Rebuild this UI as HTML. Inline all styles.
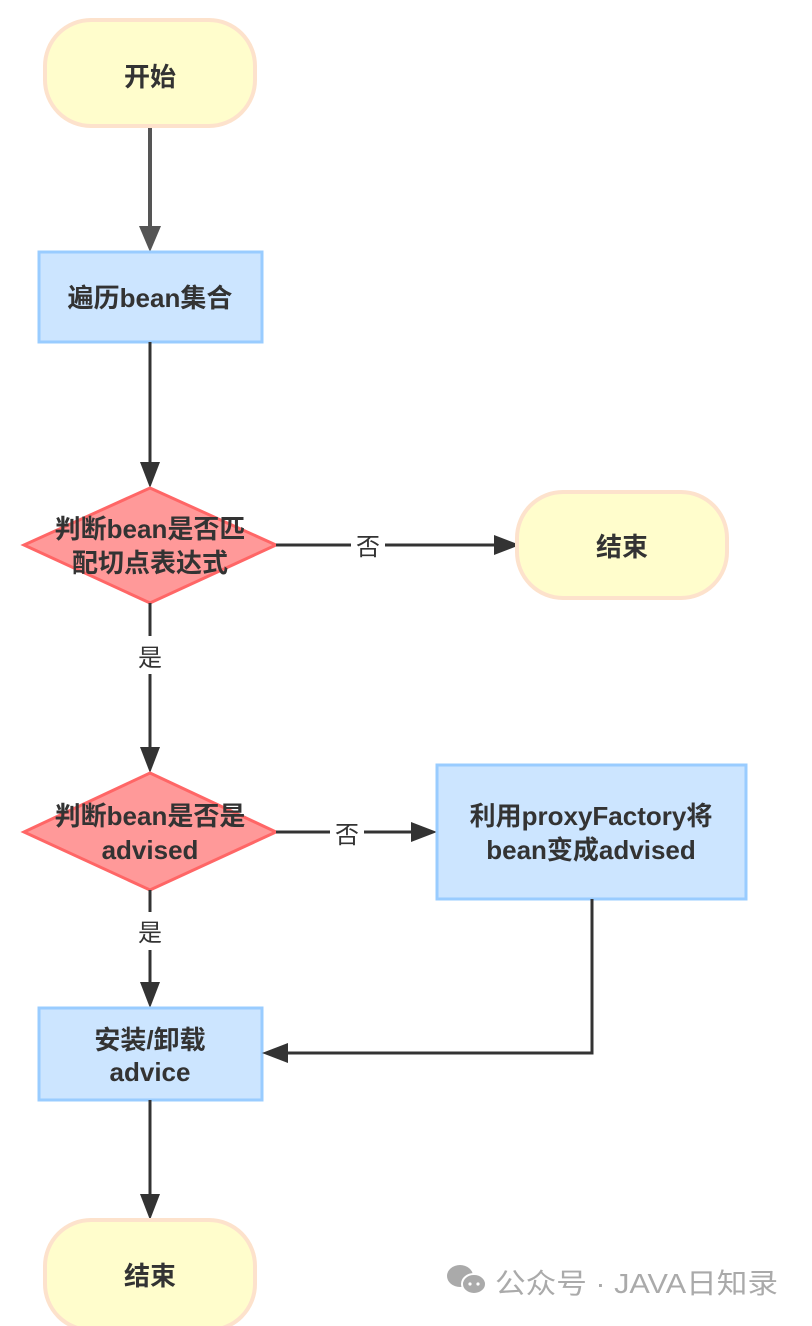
<!DOCTYPE html>
<html><head><meta charset="utf-8"><style>
html,body{margin:0;padding:0;background:#fff;width:812px;height:1326px;overflow:hidden}
svg text{font-family:"Liberation Sans","Noto Sans CJK SC",sans-serif}
.b{font-weight:bold;fill:#333;font-size:26px}
.l{fill:#333;font-size:24px}
</style></head><body>
<svg width="812" height="1326" viewBox="0 0 812 1326" xmlns="http://www.w3.org/2000/svg">
<rect x="45" y="20" width="210" height="106" rx="46" fill="#fffdcc" stroke="#fde2cc" stroke-width="4"/>
<text class="b" x="150" y="86" text-anchor="middle" font-size="30">开始</text>
<line x1="150" y1="128" x2="150" y2="230" stroke="#555" stroke-width="4"/>
<polygon points="139,226 161,226 150,252" fill="#555"/>
<rect x="39" y="252" width="223" height="90" fill="#cce5ff" stroke="#99ccff" stroke-width="3"/>
<text class="b" x="150" y="307" text-anchor="middle">遍历bean集合</text>
<line x1="150" y1="342" x2="150" y2="470" stroke="#333" stroke-width="3"/>
<polygon points="140,462 160,462 150,488" fill="#333"/>
<polygon points="150,488 276,545 150,603 24,545" fill="#ff9999" stroke="#ff6666" stroke-width="3"/>
<text class="b" x="150" y="538" text-anchor="middle">判断bean是否匹</text>
<text class="b" x="150" y="572" text-anchor="middle">配切点表达式</text>
<line x1="276" y1="545" x2="500" y2="545" stroke="#333" stroke-width="3"/>
<rect x="351" y="530" width="34" height="30" fill="#fff"/>
<text class="l" x="368" y="555" text-anchor="middle">否</text>
<polygon points="494,535 494,555 520,545" fill="#333"/>
<rect x="517" y="492" width="210" height="106" rx="46" fill="#fffdcc" stroke="#fde2cc" stroke-width="4"/>
<text class="b" x="622" y="556" text-anchor="middle" font-size="30">结束</text>
<line x1="150" y1="603" x2="150" y2="755" stroke="#333" stroke-width="3"/>
<rect x="133" y="636" width="34" height="38" fill="#fff"/>
<text class="l" x="150" y="666" text-anchor="middle">是</text>
<polygon points="140,747 160,747 150,773" fill="#333"/>
<polygon points="150,773 276,832 150,890 24,832" fill="#ff9999" stroke="#ff6666" stroke-width="3"/>
<text class="b" x="150" y="825" text-anchor="middle">判断bean是否是</text>
<text class="b" x="150" y="859" text-anchor="middle">advised</text>
<line x1="276" y1="832" x2="418" y2="832" stroke="#333" stroke-width="3"/>
<rect x="330" y="817" width="34" height="30" fill="#fff"/>
<text class="l" x="347" y="843" text-anchor="middle">否</text>
<polygon points="411,822 411,842 437,832" fill="#333"/>
<rect x="437" y="765" width="309" height="134" fill="#cce5ff" stroke="#99ccff" stroke-width="3"/>
<text class="b" x="591" y="825" text-anchor="middle">利用proxyFactory将</text>
<text class="b" x="591" y="859" text-anchor="middle">bean变成advised</text>
<line x1="150" y1="890" x2="150" y2="990" stroke="#333" stroke-width="3"/>
<rect x="133" y="912" width="34" height="38" fill="#fff"/>
<text class="l" x="150" y="941" text-anchor="middle">是</text>
<polygon points="140,982 160,982 150,1008" fill="#333"/>
<rect x="39" y="1008" width="223" height="92" fill="#cce5ff" stroke="#99ccff" stroke-width="3"/>
<text class="b" x="150" y="1049" text-anchor="middle">安装/卸载</text>
<text class="b" x="150" y="1081" text-anchor="middle">advice</text>
<polyline points="592,899 592,1053 280,1053" fill="none" stroke="#333" stroke-width="3"/>
<polygon points="288,1043 288,1063 262,1053" fill="#333"/>
<line x1="150" y1="1100" x2="150" y2="1200" stroke="#333" stroke-width="3"/>
<polygon points="140,1194 160,1194 150,1220" fill="#333"/>
<rect x="45" y="1220" width="210" height="110" rx="46" fill="#fffdcc" stroke="#fde2cc" stroke-width="4"/>
<text class="b" x="150" y="1285" text-anchor="middle" font-size="30">结束</text>
<ellipse cx="460" cy="1276" rx="13" ry="11" fill="#aaa"/>
<ellipse cx="474" cy="1284" rx="12" ry="10" fill="#aaa" stroke="#fff" stroke-width="2"/>
<circle cx="470" cy="1284" r="1.6" fill="#fff"/><circle cx="478" cy="1284" r="1.6" fill="#fff"/>
<text x="495" y="1293" font-size="28" fill="#aaa" textLength="283" lengthAdjust="spacingAndGlyphs">公众号 · JAVA日知录</text>
</svg>
</body></html>
